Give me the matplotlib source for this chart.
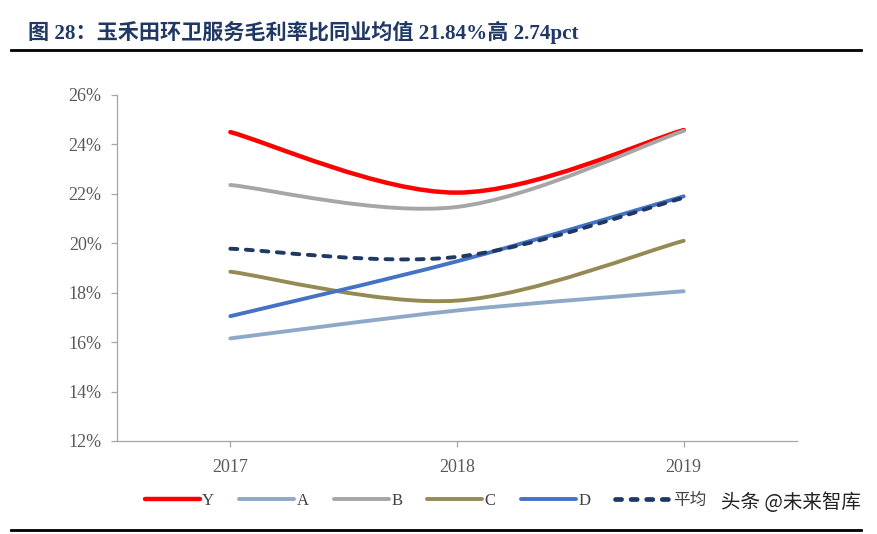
"""Gross margin comparison chart, smoothed lines like the Excel original"""

import matplotlib.pyplot as plt
from matplotlib.path import Path
from matplotlib.patches import PathPatch
from matplotlib.lines import Line2D
import numpy as np

plt.rcParams['font.family'] = ['Liberation Serif', 'Noto Sans CJK SC', 'DejaVu Sans']

# Data
years = ['2017', '2018', '2019']
y_margin = [24.50, 22.05, 24.58]
a_margin = [16.15, 17.28, 18.06]
b_margin = [22.36, 21.47, 24.55]
c_margin = [18.85, 17.68, 20.10]
d_margin = [17.05, 19.27, 21.90]
avg_margin = [19.78, 19.45, 21.84]

series_names = ['Y', 'A', 'B', 'C', 'D', '平均']
series_vals = [y_margin, a_margin, b_margin, c_margin, d_margin, avg_margin]
colors = ['#FF0000', '#8EA9C8', '#A6A6A6', '#948A54', '#4472C4', '#1F3864']
widths = [3.2, 2.8, 2.8, 2.8, 2.8, 2.8]
styles = ['-', '-', '-', '-', '-', (0, (1.8, 2.2))]
order = [1, 2, 3, 4, 5, 6]


def smooth_path(xs, ys):
    """Bezier path through the points (Catmull-Rom style, like Excel smoothing)"""
    pts = np.column_stack([xs, ys]).astype(float)
    ext = np.vstack([pts[0], pts, pts[-1]])
    verts = [pts[0]]
    codes = [Path.MOVETO]
    for i in range(len(pts) - 1):
        p0, p1, p2, p3 = ext[i], ext[i + 1], ext[i + 2], ext[i + 3]
        c1 = p1 + (p2 - p0) / 6
        c2 = p2 - (p3 - p1) / 6
        verts += [c1, c2, p2]
        codes += [Path.CURVE4] * 3
    return Path(verts, codes)


fig = plt.figure(figsize=(8.77, 5.34), dpi=100)
ax = fig.add_axes([0.1334, 0.1742, 0.7754, 0.6479])

x = np.arange(len(years))
for name, vals, col, lw, ls, z in zip(series_names, series_vals, colors, widths, styles, order):
    patch = PathPatch(smooth_path(x, vals), facecolor='none', edgecolor=col,
                      linewidth=lw, linestyle=ls, capstyle='round', zorder=z)
    ax.add_patch(patch)

ax.set_xlim(-0.5, 2.5)
ax.set_ylim(12, 26)
ax.set_xticks(x)
ax.set_xticklabels(years)
ax.set_yticks(np.arange(12, 27, 2))
ax.set_yticklabels([f'{v}%' for v in range(12, 27, 2)])
for s in ['top', 'right']:
    ax.spines[s].set_visible(False)
for s in ['left', 'bottom']:
    ax.spines[s].set_color('#A6A6A6')
    ax.spines[s].set_linewidth(0.9)
ax.tick_params(axis='both', colors='#A6A6A6', labelcolor='#595959', labelsize=13, length=4, width=0.9)
ax.tick_params(axis='y', pad=7)
ax.tick_params(axis='x', pad=9)

# Legend
handles = [Line2D([0], [0], color=c, lw=lw if ls == '-' else 3.4, linestyle=ls if ls == '-' else (0, (1.3, 2.0)),
                  solid_capstyle='round', dash_capstyle='round')
           for c, lw, ls in zip(colors, widths, styles)]
fig.legend(handles, series_names, loc='center', bbox_to_anchor=(0.485, 0.062), ncol=6, frameon=False,
           fontsize=12, handlelength=3.3, handletextpad=0.15, columnspacing=1.5,
           labelcolor='#404040')

# Title and rules
fig.text(0.032, 1 - 32 / 534, '图 28：玉禾田环卫服务毛利率比同业均值 21.84%高 2.74pct',
         fontsize=15.2, fontweight='bold', color='#1F3864', va='center', ha='left',
         family=['Liberation Serif', 'Noto Sans CJK SC'])
fig.add_artist(Line2D([0.012, 0.982], [1 - 50 / 534, 1 - 50 / 534], color='black', lw=2))
fig.add_artist(Line2D([0.012, 0.982], [1 - 530 / 534, 1 - 530 / 534], color='black', lw=2))

# Watermark
fig.text(0.822, 1 - 503 / 534, '头条 @未来智库', fontsize=14, color='#222222',
         ha='left', va='center', family=['Noto Sans CJK SC'])

fig.savefig('out.png', dpi=100)
